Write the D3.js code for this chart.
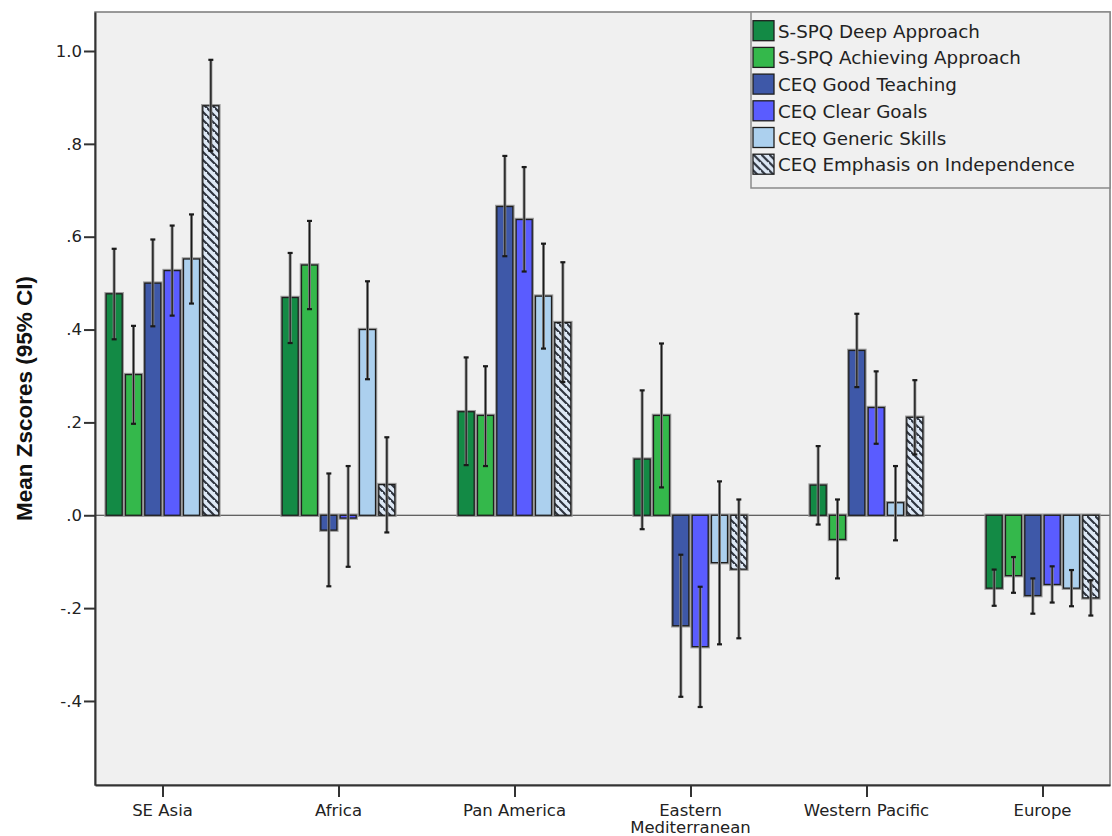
<!DOCTYPE html>
<html>
<head>
<meta charset="utf-8">
<script src="https://cdn.jsdelivr.net/npm/d3@7"></script>
<style>
  body { margin: 0; background: #fff; }
  svg { display: block; }
</style>
</head>
<body>
<div id="chart"></div>
<script>
// regions on the x axis
const regions = ['SE Asia', 'Africa', 'Pan America', 'Eastern Mediterranean', 'Western Pacific', 'Europe'];
const regionLines = [['SE Asia'], ['Africa'], ['Pan America'], ['Eastern', 'Mediterranean'], ['Western Pacific'], ['Europe']];

// the six scales (series)
const measures = ['S-SPQ Deep Approach', 'S-SPQ Achieving Approach', 'CEQ Good Teaching',
                  'CEQ Clear Goals', 'CEQ Generic Skills', 'CEQ Emphasis on Independence'];

// mean z scores and 95% CI, one value per region
const deepMean  = [0.477, 0.469, 0.223, 0.121, 0.065, -0.157];
const deepLow   = [0.379, 0.371, 0.108, -0.030, -0.020, -0.195];
const deepHigh  = [0.574, 0.565, 0.340, 0.269, 0.149, -0.117];

const achMean   = [0.303, 0.539, 0.215, 0.215, -0.052, -0.130];
const achLow    = [0.197, 0.444, 0.106, 0.060, -0.136, -0.167];
const achHigh   = [0.408, 0.634, 0.321, 0.370, 0.034, -0.090];

const goodMean  = [0.500, -0.032, 0.665, -0.238, 0.355, -0.173];
const goodLow   = [0.407, -0.153, 0.558, -0.391, 0.276, -0.212];
const goodHigh  = [0.594, 0.090, 0.774, -0.085, 0.434, -0.136];

const clearMean = [0.527, -0.006, 0.637, -0.283, 0.232, -0.149];
const clearLow  = [0.430, -0.111, 0.525, -0.413, 0.154, -0.188];
const clearHigh = [0.624, 0.106, 0.750, -0.154, 0.310, -0.110];

const genMean   = [0.552, 0.400, 0.472, -0.102, 0.027, -0.157];
const genLow    = [0.456, 0.293, 0.359, -0.278, -0.054, -0.196];
const genHigh   = [0.648, 0.504, 0.585, 0.073, 0.106, -0.118];

const indMean   = [0.882, 0.066, 0.415, -0.116, 0.211, -0.178];
const indLow    = [0.785, -0.037, 0.287, -0.265, 0.131, -0.216];
const indHigh   = [0.981, 0.168, 0.545, 0.034, 0.291, -0.140];

// y axis ticks
const yTicks = [-0.4, -0.2, 0, 0.2, 0.4, 0.6, 0.8, 1.0];
const yTickLabels = ['-.4', '-.2', '.0', '.2', '.4', '.6', '.8', '1.0'];

const colors = ['#138a45', '#34b84b', '#3e58a8', '#5a5cff', '#acd0ee', 'url(#hatch)'];

class GroupedBarChart {

  constructor(_config) {
    this.config = {
      parentElement: _config.parentElement,
      containerWidth: 1112,
      containerHeight: 836,
      margin: {top: 12, right: 2, bottom: 51, left: 95}
    };
    this.initVis();
  }

  initVis() {
    let vis = this;
    const m = vis.config.margin;
    vis.width = vis.config.containerWidth - m.left - m.right;
    vis.height = vis.config.containerHeight - m.top - m.bottom;

    // build rows from the named arrays
    const means = [deepMean, achMean, goodMean, clearMean, genMean, indMean];
    const lows = [deepLow, achLow, goodLow, clearLow, genLow, indLow];
    const highs = [deepHigh, achHigh, goodHigh, clearHigh, genHigh, indHigh];
    vis.rows = [];
    regions.forEach((r, i) => {
      measures.forEach((s, j) => {
        vis.rows.push({region: r, measure: s, idx: j, mean: means[j][i], low: lows[j][i], high: highs[j][i]});
      });
    });

    vis.svg = d3.select(vis.config.parentElement).append('svg')
        .attr('width', vis.config.containerWidth)
        .attr('height', vis.config.containerHeight);

    // hatch pattern for the last series
    const defs = vis.svg.append('defs');
    const pat = defs.append('pattern')
        .attr('id', 'hatch')
        .attr('patternUnits', 'userSpaceOnUse')
        .attr('width', 8).attr('height', 8);
    pat.append('rect').attr('width', 8).attr('height', 8).attr('fill', '#dde8f5');
    pat.append('path')
        .attr('d', 'M-2,-2 L10,10 M-6,2 L2,10 M6,-6 L14,2')
        .attr('stroke', '#2f3540')
        .attr('stroke-width', 2.2);

    vis.chart = vis.svg.append('g')
        .attr('transform', `translate(${m.left},${m.top})`);

    vis.chart.append('rect')
        .attr('width', vis.width)
        .attr('height', vis.height)
        .attr('fill', '#f0f0f0');

    vis.yScale = d3.scaleLinear()
        .domain([-0.581, 1.084])
        .range([vis.height, 0]);

    vis.xScale = d3.scalePoint()
        .domain(regions)
        .range([0, vis.width])
        .padding(0.3835);

    vis.xInner = d3.scaleBand()
        .domain(measures)
        .range([-58, 58])
        .paddingInner(0.17)
        .paddingOuter(0.085);

    // zero line
    vis.chart.append('line')
        .attr('x1', 0).attr('x2', vis.width)
        .attr('y1', vis.yScale(0)).attr('y2', vis.yScale(0))
        .attr('stroke', '#333')
        .attr('stroke-width', 1.2);

    const bw = vis.xInner.bandwidth();
    const barX = d => vis.xScale(d.region) + vis.xInner(d.measure);
    const barY = d => vis.yScale(Math.max(0, d.mean));
    const barH = d => Math.abs(vis.yScale(d.mean) - vis.yScale(0));

    // soft gray halo, then the bar itself
    vis.chart.selectAll('.halo')
      .data(vis.rows)
      .enter()
      .append('rect')
      .attr('class', 'halo')
      .attr('x', barX).attr('y', barY)
      .attr('width', bw).attr('height', barH)
      .attr('fill', 'none')
      .attr('stroke', '#9a9a9a')
      .attr('stroke-width', 3.5);

    vis.chart.selectAll('.bar')
      .data(vis.rows)
      .enter()
      .append('rect')
      .attr('class', 'bar')
      .attr('x', barX).attr('y', barY)
      .attr('width', bw).attr('height', barH)
      .attr('fill', d => colors[d.idx])
      .attr('stroke', '#1e1e1e')
      .attr('stroke-width', 1.3);

    // error bars
    const cx = d => vis.xScale(d.region) + vis.xInner(d.measure) + bw / 2;
    const err = vis.chart.selectAll('.err')
      .data(vis.rows)
      .enter()
      .append('g')
      .attr('class', 'err');
    err.append('line')
      .attr('x1', cx).attr('x2', cx)
      .attr('y1', d => vis.yScale(d.low)).attr('y2', d => vis.yScale(d.high))
      .attr('stroke', '#8a8a8a').attr('stroke-width', 3);
    err.append('line')
      .attr('x1', cx).attr('x2', cx)
      .attr('y1', d => vis.yScale(d.low)).attr('y2', d => vis.yScale(d.high))
      .attr('stroke', '#1a1a1a').attr('stroke-width', 1.3);
    ['low', 'high'].forEach(k => {
      err.append('line')
        .attr('x1', d => cx(d) - 2.5).attr('x2', d => cx(d) + 2.5)
        .attr('y1', d => vis.yScale(d[k])).attr('y2', d => vis.yScale(d[k]))
        .attr('stroke', '#1a1a1a').attr('stroke-width', 2.2);
    });

    // frame
    vis.chart.append('rect')
        .attr('width', vis.width)
        .attr('height', vis.height)
        .attr('fill', 'none')
        .attr('stroke', '#7a7a7a')
        .attr('stroke-width', 1.5);

    // y axis
    const yAxis = d3.axisLeft(vis.yScale)
        .tickValues(yTicks)
        .tickFormat((d, i) => yTickLabels[i])
        .tickSize(11)
        .tickPadding(2)
        .tickSizeOuter(0);
    const yg = vis.chart.append('g').call(yAxis);
    yg.select('.domain').attr('stroke', '#333').attr('stroke-width', 2);
    yg.selectAll('.tick line').attr('stroke', '#333').attr('stroke-width', 2);
    yg.selectAll('.tick text')
        .attr('font-family', 'DejaVu Sans, Verdana, sans-serif')
        .attr('font-size', 16.5)
        .attr('fill', '#222');

    // x axis
    const xAxis = d3.axisBottom(vis.xScale)
        .tickSize(12)
        .tickSizeOuter(0)
        .tickFormat('');
    const xg = vis.chart.append('g')
        .attr('transform', `translate(0,${vis.height})`)
        .call(xAxis);
    xg.select('.domain').attr('stroke', '#333').attr('stroke-width', 2);
    xg.selectAll('.tick line').attr('stroke', '#333').attr('stroke-width', 2);

    regionLines.forEach((lines, i) => {
      const t = vis.chart.append('text')
          .attr('x', vis.xScale(regions[i]))
          .attr('y', vis.height + 31)
          .attr('text-anchor', 'middle')
          .attr('font-family', 'DejaVu Sans, Verdana, sans-serif')
          .attr('font-size', 16.5)
          .attr('fill', '#222');
      lines.forEach((l, k) => {
        t.append('tspan')
          .attr('x', vis.xScale(regions[i]))
          .attr('dy', k === 0 ? 0 : 17)
          .text(l);
      });
    });

    // y axis title
    vis.svg.append('text')
        .attr('transform', `translate(32,${m.top + vis.height / 2}) rotate(-90)`)
        .attr('text-anchor', 'middle')
        .attr('font-family', 'Liberation Sans, Arial, sans-serif')
        .attr('font-weight', 'bold')
        .attr('font-size', 22.5)
        .attr('fill', '#111')
        .text('Mean Zscores (95% CI)');

    // legend
    const lg = vis.svg.append('g').attr('transform', 'translate(751,12)');
    lg.append('rect')
        .attr('width', 359).attr('height', 176)
        .attr('fill', '#f0f0f0')
        .attr('stroke', '#8a8a8a')
        .attr('stroke-width', 1.5);
    const item = lg.selectAll('.item')
      .data(measures)
      .enter()
      .append('g')
      .attr('transform', (d, i) => `translate(2,${8.7 + i * 26.7})`);
    item.append('rect')
      .attr('width', 21).attr('height', 20)
      .attr('fill', (d, i) => colors[i])
      .attr('stroke', '#1e1e1e')
      .attr('stroke-width', 1.3);
    item.append('text')
      .attr('x', 25)
      .attr('y', 17)
      .attr('font-family', 'DejaVu Sans, Verdana, sans-serif')
      .attr('font-size', 18.3)
      .attr('fill', '#222')
      .text(d => d);
  }
}

new GroupedBarChart({parentElement: '#chart'});
</script>
</body>
</html>
